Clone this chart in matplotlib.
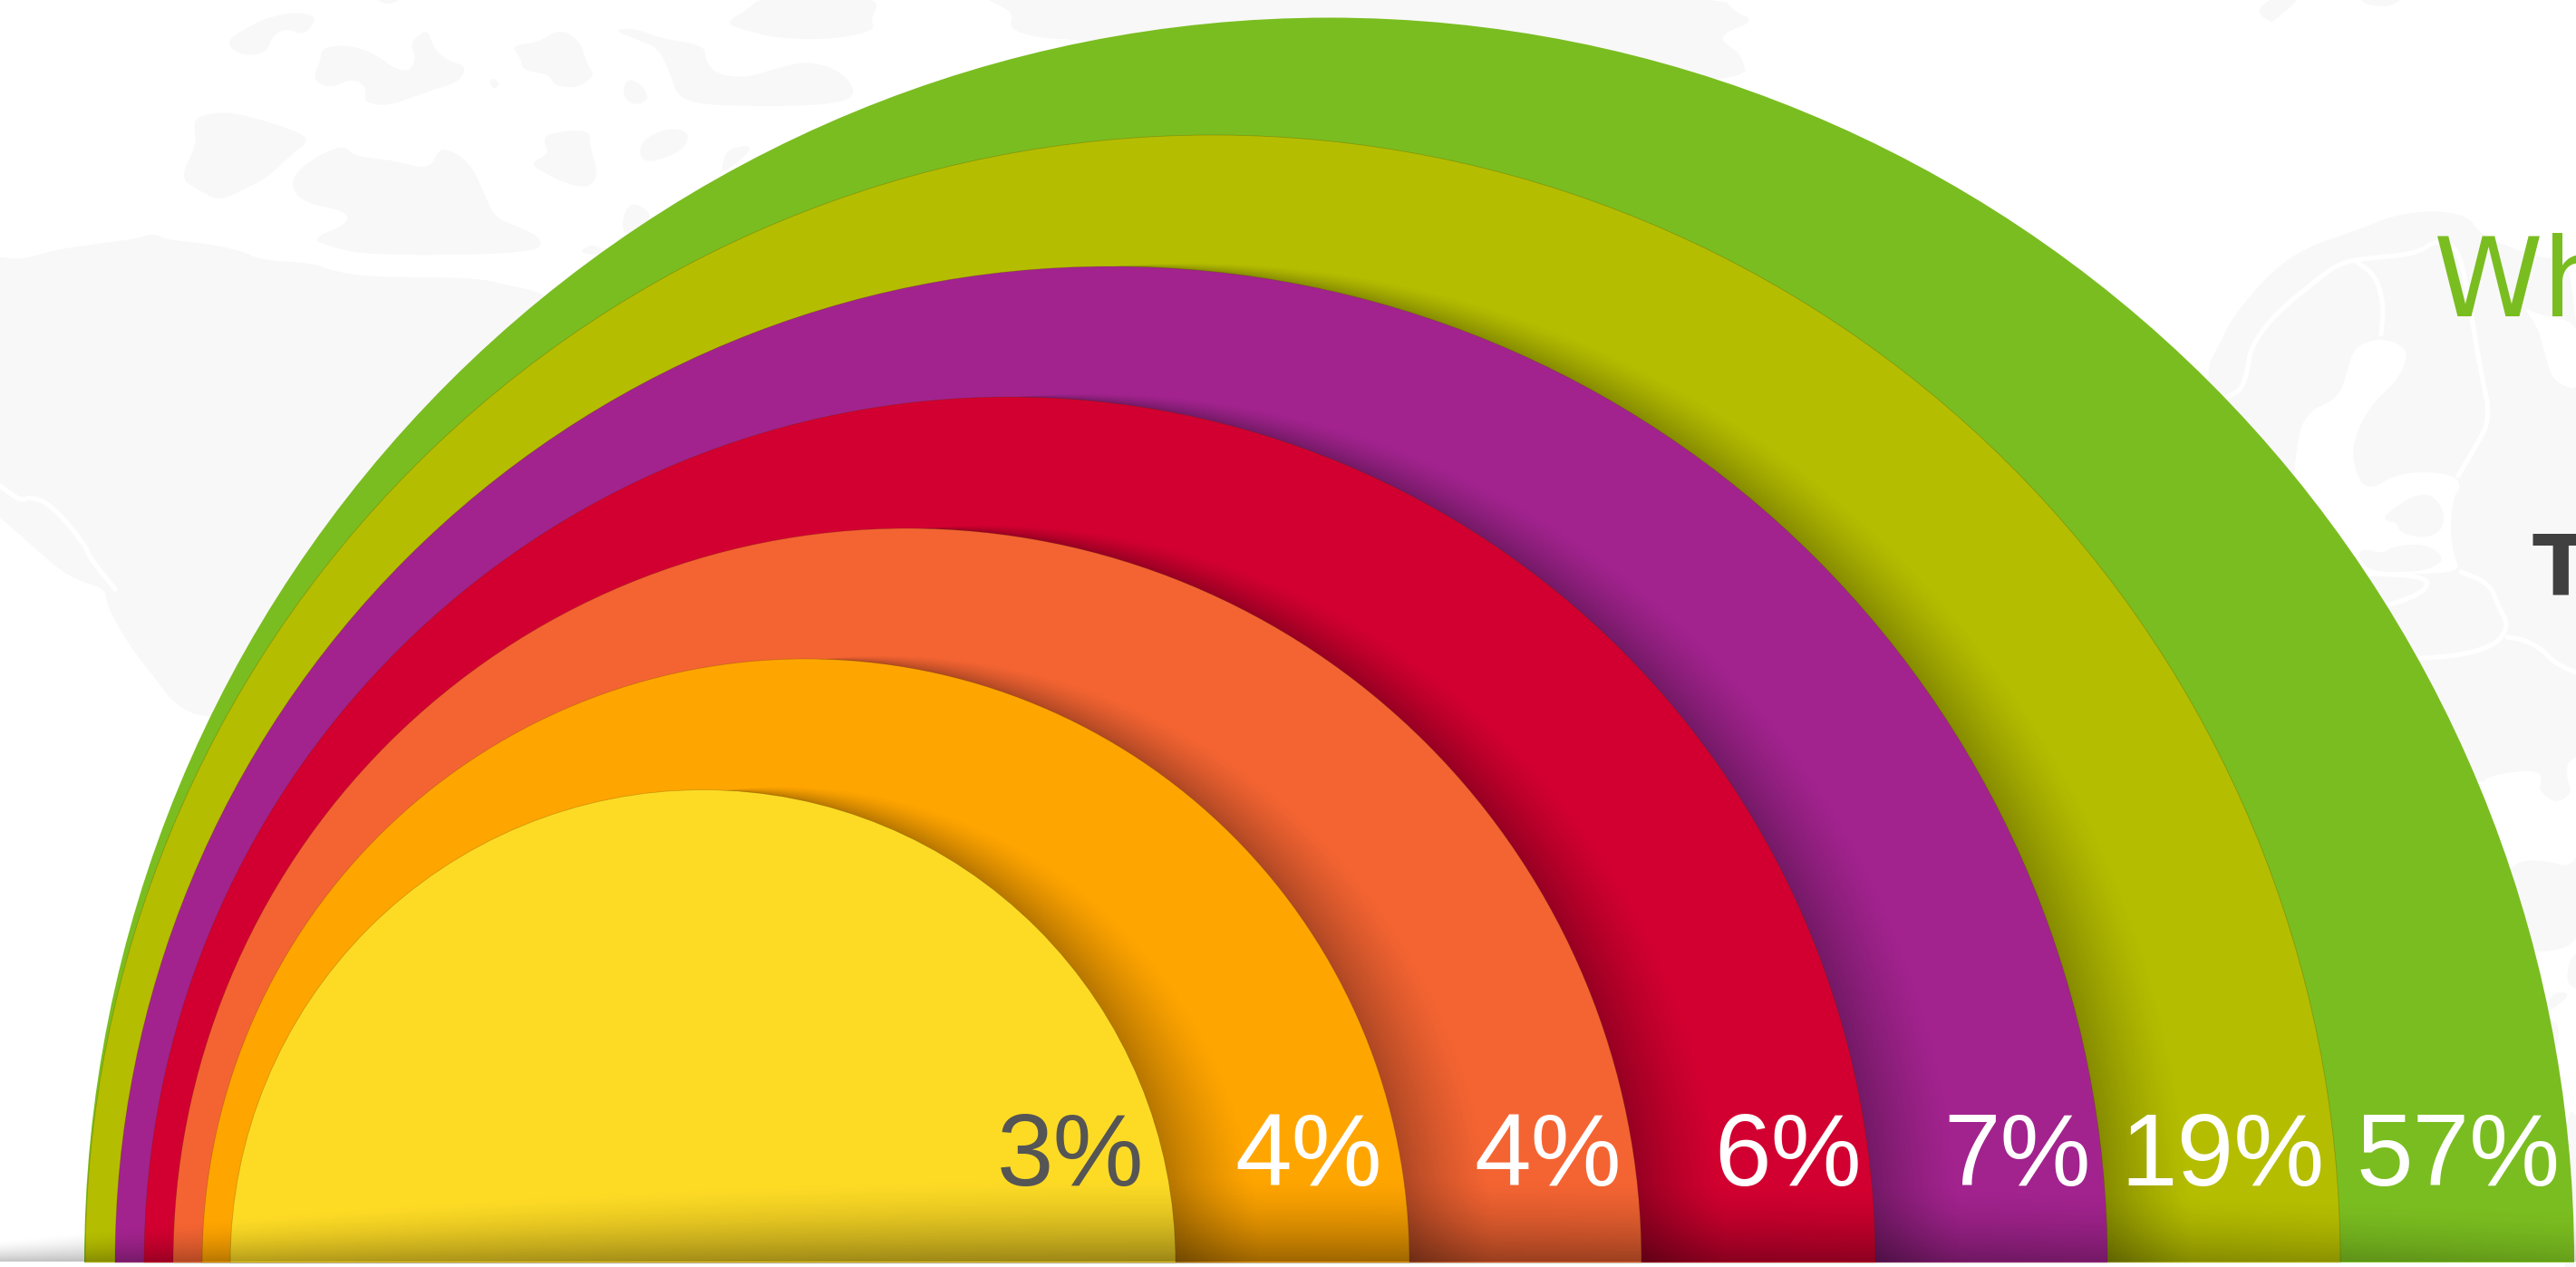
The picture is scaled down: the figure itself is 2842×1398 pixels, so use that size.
#!/usr/bin/env python

# nested half circles on top of a faint world map

import numpy as np
import matplotlib
matplotlib.use('Agg')
import matplotlib.pyplot as plt
from matplotlib.patches import Wedge, Polygon

labels = ['57%', '19%', '7%', '6%', '4%', '4%', '3%']
colors = ['#7abd20', '#b5bd00', '#a2238e', '#d20030', '#f46432', '#ffa500', '#fddb25']
label_colors = ['white', 'white', 'white', 'white', 'white', 'white', '#555555']

W, H = 2842, 1398
BASE = 1393
LAND = '#f8f8f8'

# ring layout, outermost first
lefts = [93, 94, 127, 159, 191, 223, 254]
rights = [2840, 2582, 2325, 2069, 1811, 1555, 1297]
label_rights = [2825, 2565, 2307, 2054, 1789, 1525, 1262]
shadow_strength = [0.0, 0.26, 0.28, 0.28, 0.28, 0.28]

land = [
    [(-60, 283), (0, 283), (22, 287), (64, 275), (115, 268), (153, 263), (169, 257), (185, 265), (223, 268), (268, 277),
     (287, 287), (344, 290), (370, 300), (415, 306), (523, 306), (561, 315), (606, 324), (900, 500), (600, 800),
     (230, 795), (193, 778), (170, 747), (143, 713), (117, 667), (117, 650), (90, 642), (67, 630), (33, 600), (0, 571), (-60, 515)],
    [(252, 43), (274, 30), (293, 20), (325, 13), (350, 18), (341, 33), (332, 38), (316, 31), (300, 40), (295, 57), (274, 62), (255, 55)],
    [(354, 53), (383, 49), (415, 60), (437, 77), (453, 78), (459, 63), (452, 47), (472, 31), (478, 53), (494, 67), (515, 73),
     (507, 90), (478, 99), (453, 108), (427, 117), (401, 113), (405, 97), (389, 86), (364, 98), (344, 87), (354, 67)],
    [(564, 50), (593, 47), (619, 31), (641, 47), (647, 70), (657, 83), (638, 97), (612, 95), (606, 82), (577, 78), (574, 63)],
    [(539, 90), (545, 86), (552, 93), (545, 99)],
    [(692, 86), (708, 93), (717, 110), (698, 117), (686, 103)],
    [(676, 33), (701, 31), (727, 42), (778, 50), (778, 67), (791, 82), (823, 86), (858, 75), (893, 67), (931, 80), (947, 107),
     (906, 117), (791, 117), (749, 110), (740, 83), (727, 53), (701, 43)],
    [(842, -5), (823, 12), (800, 25), (820, 33), (861, 43), (925, 43), (966, 33), (960, 23), (973, -5)],
    [(411, -5), (450, -5), (427, 7)],
    [(217, 128), (252, 123), (287, 132), (316, 141), (344, 153), (319, 173), (293, 197), (271, 208), (242, 222), (220, 210), (198, 197), (217, 160), (214, 140)],
    [(341, 177), (379, 159), (389, 172), (434, 177), (475, 188), (485, 160), (517, 177), (533, 210), (545, 240), (574, 251),
     (601, 265), (587, 280), (408, 282), (364, 272), (343, 263), (383, 248), (383, 233), (332, 223), (319, 200)],
    [(603, 147), (651, 142), (651, 163), (660, 190), (651, 208), (622, 202), (600, 190), (584, 180), (606, 170), (600, 157)],
    [(705, 157), (734, 141), (762, 145), (753, 168), (708, 182)],
    [(804, 163), (836, 160), (797, 193), (797, 180)],
    [(698, 221), (724, 240), (689, 263), (686, 240)],
    [(638, 278), (654, 269), (667, 277), (657, 282)],
    [(1080, -5), (1105, 7), (1118, 15), (1113, 33), (1153, 43), (1190, 43), (1500, 100), (1928, 93), (1922, 60), (1902, 48),
     (1900, 37), (1937, 23), (1912, 12), (1900, -5)],
    [(2488, 12), (2510, -5), (2542, -5), (2510, 22), (2505, 25)],
    [(2600, -5), (2655, -5), (2640, 6), (2625, 7), (2610, 5)],
    # right hand land mass
    [(2432, 409), (2447, 384), (2463, 349), (2513, 292), (2555, 269), (2583, 260), (2613, 249), (2640, 238), (2683, 232),
     (2723, 238), (2735, 257), (2767, 272), (2800, 284), (2850, 288), (2850, 1045), (2800, 1053), (2600, 1050), (2450, 700)],
    [(2830, 1220), (2850, 1232), (2850, 1400), (2820, 1400)],
]
water = [
    [(2783, 338), (2800, 347), (2850, 357), (2850, 433), (2817, 422), (2808, 392), (2800, 361)],
    # bay behind the big ring
    [(2530, 544), (2533, 495), (2543, 456), (2580, 439), (2588, 415), (2597, 384), (2617, 375), (2637, 375), (2658, 387),
     (2647, 418), (2613, 449), (2593, 495), (2603, 533), (2618, 539), (2640, 525), (2673, 520), (2710, 525), (2715, 539),
     (2707, 547), (2703, 582), (2707, 613), (2715, 631), (2660, 634), (2613, 631), (2560, 682)],
    # gap on the lower right
    [(2700, 850), (2738, 865), (2745, 857), (2770, 852), (2800, 850), (2805, 860), (2800, 872), (2820, 887), (2838, 875),
     (2832, 860), (2832, 840), (2850, 832), (2850, 960), (2800, 948), (2770, 953), (2750, 1000)],
    [(2700, 1052), (2800, 1052), (2850, 1040), (2850, 1240), (2830, 1218), (2790, 1190), (2700, 1200)],
]
islands = [
    [(2630, 570), (2640, 562), (2660, 548), (2683, 544), (2698, 567), (2693, 587), (2673, 594), (2648, 588), (2645, 577), (2633, 575)],
    [(2600, 611), (2610, 605), (2627, 611), (2643, 602), (2677, 600), (2698, 616), (2683, 627), (2663, 631), (2613, 631)],
    [(2770, 953), (2800, 948), (2850, 960), (2850, 1040), (2800, 1053), (2770, 1040), (2740, 1000)],
    [(2832, 1073), (2838, 1053), (2850, 1050), (2850, 1093), (2833, 1087)],
    [(2815, 1095), (2838, 1095), (2815, 1115), (2810, 1115)],
    [(2795, 1130), (2825, 1125), (2820, 1165), (2800, 1180)],
]
rivers = [
    [(-10, 530), (0, 536), (23, 553), (33, 548), (57, 557), (93, 600), (100, 617), (127, 650)],
    [(2457, 438), (2473, 430), (2480, 407), (2483, 384), (2507, 349), (2563, 303), (2580, 292), (2600, 286), (2667, 280),
     (2687, 265), (2710, 272), (2720, 307), (2730, 369), (2737, 410), (2748, 462), (2730, 495), (2712, 525)],
    [(2600, 289), (2620, 303), (2630, 334), (2627, 369)],
    [(2715, 631), (2747, 644), (2757, 671), (2768, 690), (2753, 713), (2700, 726), (2600, 728)],
    [(2766, 703), (2785, 706), (2805, 717), (2820, 733), (2850, 745)],
    [(2600, 632), (2680, 636), (2675, 653), (2640, 667), (2620, 668)],
]


def smooth(points, closed=True, rounds=3):
    # corner cutting so the outlines look organic
    pts = np.array(points, dtype=float)
    for _ in range(rounds):
        nxt = np.roll(pts, -1, axis=0) if closed else pts[1:]
        cur = pts if closed else pts[:-1]
        q = 0.75 * cur + 0.25 * nxt
        r = 0.25 * cur + 0.75 * nxt
        new = np.empty((len(q) * 2, 2))
        new[0::2] = q
        new[1::2] = r
        if not closed:
            new = np.vstack([pts[0], new, pts[-1]])
        pts = new
    return pts


def ring_shadow(cx, r, strength, xx, yy):
    # soft shadow thrown to the right by a half circle
    shift = 92
    u = np.hypot(xx - cx, yy - BASE) - r
    v = (r + 4) - np.hypot(xx - cx - shift, yy - BASE)
    a = np.zeros_like(xx)
    mask = (u > -1) & (v > 0)
    a[mask] = strength * (v[mask] / (np.maximum(u[mask], 0) + v[mask])) ** 1.3
    return a


def black_image(ax, alpha, top=0, bottom=BASE):
    rgba = np.zeros(alpha.shape + (4,))
    rgba[..., 3] = alpha
    return ax.imshow(rgba, extent=(0, W, bottom, top), aspect='auto', interpolation='nearest', zorder=2)


fig = plt.figure(figsize=(W / 100, H / 100), dpi=100)
ax = fig.add_axes([0, 0, 1, 1])
ax.set_axis_off()

for shape in land:
    ax.add_patch(Polygon(smooth(shape), closed=True, fc=LAND, ec='none', zorder=1))
for shape in water:
    ax.add_patch(Polygon(smooth(shape), closed=True, fc='white', ec='none', zorder=1.1))
for shape in islands:
    ax.add_patch(Polygon(smooth(shape), closed=True, fc=LAND, ec='none', zorder=1.2))
for shape in rivers:
    line = smooth(shape, closed=False)
    ax.plot(line[:, 0], line[:, 1], color='white', lw=3.8, solid_capstyle='round', zorder=1.3)

xx, yy = np.meshgrid(np.arange(W) + 0.5, np.arange(BASE) + 0.5)

wedges = []
for i, col in enumerate(colors):
    cx = (lefts[i] + rights[i]) / 2
    r = (rights[i] - lefts[i]) / 2
    w = Wedge((cx, BASE), r, 180, 360, fc=col, ec=(0.3, 0.2, 0, 0.25) if i else 'none', lw=0.6, zorder=2 + i * 0.1)
    ax.add_patch(w)
    wedges.append(w)
    if i and shadow_strength[i - 1] > 0:
        # shadow lands on the ring drawn just before this one
        a = ring_shadow(cx, r, shadow_strength[i - 1], xx, yy)
        im = black_image(ax, a)
        im.set_clip_path(wedges[i - 1])
        im.set_zorder(2 + i * 0.1 - 0.05)

# dark band along the flat edge of the rings, thinner towards the left
dx = (xx - 1300) / 2000
band = BASE - 1 - yy
reach = np.where(dx < 0, 95 * (1 - 0.7 * (dx * 1.6) ** 2), 95 * (1 - 0.7 * dx ** 2))
shade = np.clip(1 - dx ** 2, 0, 1) * np.clip(1 - band / reach, 0, 1) ** 1.6 * 0.38
shade_im = black_image(ax, shade, bottom=BASE - 1)
shade_im.set_zorder(3)

for lab, right, col in zip(labels, label_rights, label_colors):
    ax.text(right, 1308, lab, ha='right', va='baseline', color=col, fontsize=81,
            family='Liberation Sans', zorder=4)

ax.text(2685, 349, 'Wh', color=colors[0], fontsize=88, family='DejaVu Sans', ha='left', va='baseline', zorder=4)
ax.text(2794, 655, 'T', color='#404040', fontsize=66, family='DejaVu Sans', weight='bold', ha='left', va='baseline', zorder=4)

ax.set_xlim(0, W)
ax.set_ylim(H, 0)

fig.savefig('out.png', dpi=100, facecolor='white')
